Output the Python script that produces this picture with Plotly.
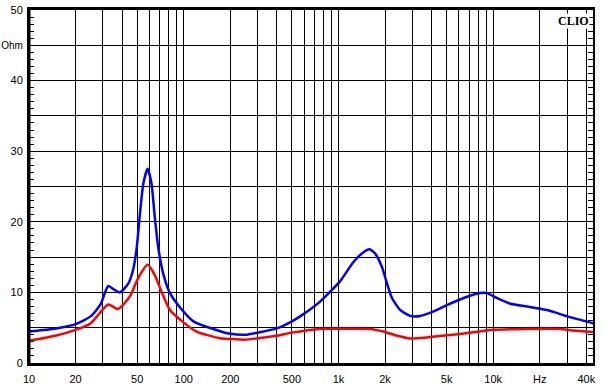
import plotly.graph_objects as go

# Blue curve (impedance, driver 1)
blue_f = [10, 15, 20, 25, 29, 32.5, 35.5, 38.6, 43.7, 47.1, 49.6, 52.0, 54.8, 58.4, 61.9,
          65.0, 68.4, 73.6, 81.5, 97.7, 115.5, 172, 200, 250, 300, 400, 500, 565, 761,
          884, 1026, 1250, 1452, 1585, 1728, 1910, 2057, 2218, 2510, 2912, 3380, 4120,
          5020, 6450, 8260, 9120, 10590, 12900, 16600, 22300, 30200, 44700]
blue_z = [4.46, 4.9, 5.5, 6.6, 8.3, 10.9, 10.4, 10.0, 11.2, 13.2, 16.2, 20.9, 25.4, 27.5, 25.4,
          20.7, 16.4, 12.7, 9.9, 7.5, 5.9, 4.5, 4.13, 4.0, 4.3, 4.9, 5.9, 6.6, 8.7,
          10.1, 11.6, 14.3, 15.7, 16.1, 15.5, 13.6, 11.3, 9.2, 7.5, 6.67, 6.67, 7.3,
          8.2, 9.2, 9.9, 9.9, 9.2, 8.4, 8.0, 7.5, 6.6, 5.6]

# Red curve (impedance, driver 2)
red_f = [10, 15, 20, 25, 28.6, 32.5, 37.6, 44.8, 50.7, 58.4, 65.0, 71.9, 81.5, 97.7,
         120.9, 172, 200, 250, 300, 400, 500, 761, 1000, 1600, 1950, 2400, 2900, 3900,
         6100, 10000, 16600, 27000, 33000, 44700]
red_z = [3.15, 3.9, 4.7, 5.6, 7.05, 8.3, 7.65, 9.4, 12.0, 13.9, 12.45, 10.1, 7.5, 5.9,
         4.46, 3.5, 3.4, 3.3, 3.5, 3.85, 4.3, 4.83, 4.85, 4.83, 4.46, 3.85, 3.47, 3.67,
         4.1, 4.7, 4.83, 4.83, 4.6, 4.37]

# Axis ticks
x_grid = [m * 10 ** e for e in range(1, 5) for m in range(1, 10) if m * 10 ** e <= 40000]
x_labels = {10: "10", 20: "20", 50: "50", 100: "100", 200: "200", 500: "500",
            1000: "1k", 2000: "2k", 5000: "5k", 10000: "10k", 20000: "Hz", 40000: "40k"}
x_text = [x_labels.get(v, "") for v in x_grid]
y_vals = [0, 5, 10, 15, 20, 25, 30, 35, 40, 45, 50]
y_text = ["0", "", "10", "", "20", "", "30", "", "40",
          "<span style='font-size:10px'>Ohm</span>", "50"]

fig = go.Figure()
fig.add_trace(go.Scatter(x=red_f, y=red_z, mode="lines",
                         line=dict(color="#ff0000", width=2.5, shape="spline", smoothing=0.6)))
fig.add_trace(go.Scatter(x=blue_f, y=blue_z, mode="lines",
                         line=dict(color="#0000ff", width=2.5, shape="spline", smoothing=0.6)))

font = dict(family="Liberation Sans, Arial, sans-serif", size=11, color="#000000")

fig.update_layout(
    width=605, height=391,
    margin=dict(l=29, r=12, t=10, b=28),
    paper_bgcolor="white", plot_bgcolor="white",
    showlegend=False,
    font=font,
    xaxis=dict(type="log", range=[1, 4.645], tickmode="array", tickvals=x_grid,
               ticktext=x_text, showgrid=True, gridcolor="#000000", gridwidth=1,
               showline=True, linecolor="#000000", linewidth=3, mirror=True,
               ticks="", zeroline=False, tickfont=font, ticklabelstandoff=4,
               automargin=False, ticklabeloverflow="allow"),
    yaxis=dict(range=[0, 50], tickmode="array", tickvals=y_vals, ticktext=y_text,
               showgrid=True, gridcolor="#000000", gridwidth=1,
               showline=True, linecolor="#000000", linewidth=2, mirror="ticks",
               ticks="inside", ticklen=5, tickcolor="#000000", zeroline=False,
               minor=dict(dtick=1, ticks="inside", ticklen=5, tickcolor="#000000",
                          showgrid=False),
               tickfont=font, ticklabelstandoff=2, automargin=False,
               ticklabeloverflow="allow"),
)

fig.add_shape(type="line", xref="paper", yref="paper", x0=0, x1=0, y0=0, y1=1,
              line=dict(color="#000000", width=3))

fig.add_annotation(text="<b>CLIO</b>", xref="paper", yref="paper", x=0.994, y=0.992,
                   xanchor="right", yanchor="top", showarrow=False,
                   font=dict(family="Liberation Serif, Times New Roman, serif", size=12,
                             color="#000000"),
                   bgcolor="white", borderpad=0)

# remove the default 8px page margin so the 605x391 figure fills the window exactly
fig.write_html("out.html", config={"displayModeBar": False},
               post_script="document.body.style.margin='0';")
